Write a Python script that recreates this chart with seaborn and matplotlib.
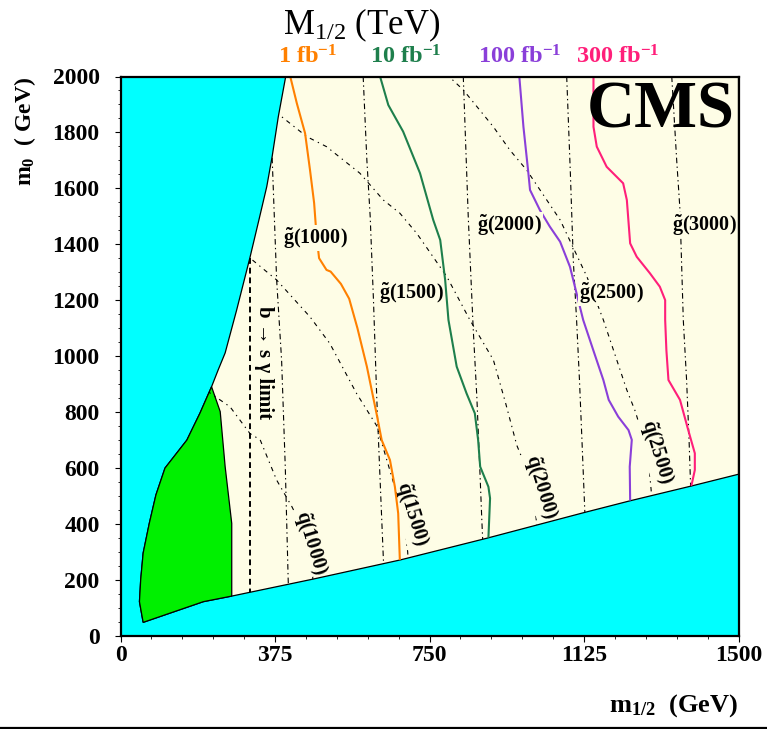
import matplotlib
matplotlib.use("Agg")
import matplotlib.pyplot as plt
from matplotlib.patches import Polygon
from matplotlib.lines import Line2D
import pandas as pd
import seaborn as sns

# ---------------- data: mSUGRA plane (m1/2, m0) in GeV ----------------
# boundary of the theoretically excluded region (upper left)
left_edge_m12 = [401, 383, 368, 355, 336, 314, 282, 254, 237, 221]
left_edge_m0 = [2000, 1856, 1713, 1606, 1487, 1351, 1165, 1011, 950, 890]
# LEP excluded region
lep_left_m12 = [221, 193, 161, 108, 86, 70, 55, 49, 46, 55]
lep_left_m0 = [890, 796, 699, 599, 503, 402, 295, 199, 121, 47]
lep_right_m12 = [270, 270, 254, 242, 221]
lep_right_m0 = [141, 401, 604, 801, 890]
# boundary of the excluded region (bottom)
lower_edge_m12 = [55, 201, 270, 468, 678, 889, 1123, 1237, 1386, 1500]
lower_edge_m0 = [47, 121, 141, 202, 270, 348, 439, 482, 535, 577]

# 5 sigma reach contours
lumi_labels = ["1", "10", "100", "300"]
reach_1_m12 = [412, 428, 448, 460, 470, 476, 482, 500, 510, 535, 555, 575, 598, 622, 634, 654, 666, 674, 678]
reach_1_m0 = [2000, 1904, 1797, 1665, 1547, 1427, 1350, 1308, 1302, 1258, 1205, 1100, 962, 790, 699, 628, 532, 437, 270]
reach_10_m12 = [630, 650, 686, 727, 759, 776, 788, 796, 816, 840, 860, 868, 873, 893, 897, 893]
reach_10_m0 = [2000, 1898, 1803, 1654, 1487, 1415, 1272, 1129, 962, 866, 795, 700, 604, 532, 491, 350]
reach_100_m12 = [968, 978, 990, 994, 1018, 1042, 1067, 1091, 1107, 1123, 1150, 1172, 1185, 1208, 1233, 1241, 1236, 1237]
reach_100_m0 = [2000, 1820, 1654, 1594, 1522, 1463, 1409, 1319, 1224, 1129, 1010, 914, 843, 783, 735, 700, 604, 485]
reach_300_m12 = [1148, 1148, 1156, 1180, 1220, 1229, 1237, 1253, 1285, 1309, 1322, 1322, 1325, 1330, 1358, 1378, 1394, 1394, 1386]
reach_300_m0 = [2000, 1820, 1749, 1677, 1618, 1558, 1403, 1355, 1296, 1248, 1200, 1129, 1020, 914, 843, 735, 652, 592, 538]

# gluino iso-mass lines
gluino_masses = ["1000", "1500", "2000", "2500", "3000"]
gl_1000_m12 = [358, 368, 379, 391, 400, 407, 410]
gl_1000_m0 = [2000, 1713, 1272, 986, 600, 199, 80]
gl_1500_m12 = [589, 598, 606, 614, 622, 630, 638, 641]
gl_1500_m0 = [2000, 1700, 1500, 1200, 850, 560, 275, 180]
gl_2000_m12 = [832, 844, 856, 865, 872, 877, 881]
gl_2000_m0 = [2000, 1500, 1100, 850, 600, 413, 280]
gl_2500_m12 = [1083, 1092, 1099, 1107, 1114, 1120, 1127, 1131]
gl_2500_m0 = [2000, 1650, 1343, 1129, 914, 700, 443, 330]
gl_3000_m12 = [1338, 1350, 1358, 1366, 1374, 1380, 1385]
gl_3000_m0 = [2000, 1700, 1522, 1129, 914, 700, 480]
gluino_label_m12 = [473, 705, 945, 1191, 1416]
gluino_label_m0 = [1422, 1225, 1469, 1225, 1469]

# squark iso-mass lines
squark_masses = ["1000", "1500", "2000", "2500"]
sq_1000_m12 = [210, 225, 266, 314, 339, 379, 416, 440, 455, 465, 470]
sq_1000_m0 = [875, 860, 818, 723, 700, 556, 461, 390, 330, 250, 120]
sq_1500_m12 = [295, 314, 379, 460, 508, 573, 622, 650, 672, 690, 697, 701]
sq_1500_m0 = [1380, 1351, 1272, 1140, 1045, 866, 750, 610, 500, 380, 300, 200]
sq_2000_m12 = [375, 452, 500, 581, 638, 678, 719, 792, 848, 905, 935, 962, 990, 1005, 1010, 1013]
sq_2000_m0 = [1875, 1785, 1749, 1654, 1558, 1511, 1439, 1284, 1129, 986, 830, 680, 580, 480, 400, 300]
sq_2500_m12 = [790, 832, 905, 945, 986, 1067, 1132, 1172, 1229, 1250, 1270, 1283, 1288, 1290]
sq_2500_m0 = [2010, 1952, 1820, 1737, 1665, 1487, 1284, 1129, 878, 800, 700, 600, 520, 440]
squark_label_m12 = [461, 705, 1019, 1300]
squark_label_m0 = [333, 435, 532, 658]

# b -> s gamma limit
bsg_m12 = [315.5, 315.5]
bsg_m0 = [1350, 100]
bsg_label_m12 = 349
bsg_label_m0 = 976

x_ticks = [0, 375, 750, 1125, 1500]
y_ticks = list(range(0, 2001, 200))

# ---------------- style ----------------
sns.set_style("ticks")
plt.rcParams["font.family"] = ["Liberation Serif", "DejaVu Serif"]
plt.rcParams["mathtext.fontset"] = "custom"
plt.rcParams["mathtext.rm"] = "Liberation Serif"
plt.rcParams["mathtext.it"] = "Liberation Serif:italic"
plt.rcParams["mathtext.bf"] = "Liberation Serif:bold"
plt.rcParams["mathtext.fallback"] = "stix"
for key in ["text.color", "axes.labelcolor", "xtick.color", "ytick.color", "axes.edgecolor"]:
    plt.rcParams[key] = "black"

CYAN = "#00FFFF"
ALLOWED = "#FEFDE6"
LEP = "#00F000"
colors = ["#FF8000", "#1E7F4C", "#8A3FD9", "#FF1F7A"]

W, H = 767, 729
fig = plt.figure(figsize=(W / 100, H / 100), dpi=100)
ax = fig.add_axes([120.5 / W, 1 - 635.5 / H, 618 / W, 559 / H])
ax.set_facecolor(CYAN)
ax.set_xlim(0, 1500)
ax.set_ylim(0, 2000)

allowed_pts = (list(zip(left_edge_m12, left_edge_m0)) + list(zip(lep_left_m12[1:], lep_left_m0[1:]))
               + list(zip(lower_edge_m12[1:], lower_edge_m0[1:])) + [(1500, 2000)])
allowed = Polygon(allowed_pts, closed=True, facecolor=ALLOWED, edgecolor="black", lw=0.9, zorder=1)
ax.add_patch(allowed)

lep_pts = (list(zip(lep_left_m12, lep_left_m0)) + list(zip(lower_edge_m12[1:3], lower_edge_m0[1:3]))
           + list(zip(lep_right_m12[1:], lep_right_m0[1:])))
ax.add_patch(Polygon(lep_pts, closed=True, facecolor=LEP, edgecolor="black", lw=0.9, zorder=2))


def draw(xs, ys, color, lw, dashes=None, z=3):
    df = pd.DataFrame({"m12": xs, "m0": ys})
    sns.lineplot(data=df, x="m12", y="m0", sort=False, estimator=None, color=color,
                 lw=lw, ax=ax, zorder=z, legend=False)
    line = ax.lines[-1]
    if dashes is not None:
        line.set_dashes(dashes)
    line.set_clip_path(allowed)
    return line


dd = (5, 3, 1.2, 3)
for xs, ys in [(gl_1000_m12, gl_1000_m0), (gl_1500_m12, gl_1500_m0), (gl_2000_m12, gl_2000_m0),
               (gl_2500_m12, gl_2500_m0), (gl_3000_m12, gl_3000_m0)]:
    draw(xs, ys, "black", 0.8, dd)
for xs, ys in [(sq_1000_m12, sq_1000_m0), (sq_1500_m12, sq_1500_m0), (sq_2000_m12, sq_2000_m0),
               (sq_2500_m12, sq_2500_m0)]:
    draw(xs, ys, "black", 0.8, (4, 4, 1.2, 4))
draw(bsg_m12, bsg_m0, "black", 1.4, (3, 2))

for (xs, ys), c in zip([(reach_1_m12, reach_1_m0), (reach_10_m12, reach_10_m0),
                        (reach_100_m12, reach_100_m0), (reach_300_m12, reach_300_m0)], colors):
    draw(xs, ys, c, 1.5, None, z=4)

label_font = dict(fontsize=14.5, fontweight="bold", color="black")
for m, x, y in zip(gluino_masses, gluino_label_m12, gluino_label_m0):
    ax.text(x, y, r"$\mathbf{\tilde{g}}$(" + m + ")", ha="center", va="center", zorder=5,
            bbox=dict(facecolor=ALLOWED, edgecolor="none", pad=0.5), **label_font)
for m, x, y in zip(squark_masses, squark_label_m12, squark_label_m0):
    ax.text(x, y, r"$\mathbf{\tilde{q}}$(" + m + ")", ha="center", va="center", rotation=-73,
            rotation_mode="anchor", zorder=3.5,
            bbox=dict(facecolor=ALLOWED, edgecolor="none", pad=0.5), **label_font)
ax.text(bsg_label_m12, bsg_label_m0, "b → s γ limit", ha="center", va="center", rotation=-90,
        fontsize=15, fontweight="bold", zorder=3.5,
        bbox=dict(facecolor=ALLOWED, edgecolor="none", pad=0.5))

ax.text(1490, 1985, "CMS", ha="right", va="top", fontsize=48, fontweight="bold", color="black", zorder=6)

# axes and ticks
ax.set_xticks(x_ticks)
ax.set_xticks(range(0, 1501, 75), minor=True)
ax.set_yticks(y_ticks)
ax.set_yticks(range(0, 2001, 50), minor=True)
ax.tick_params(axis="both", which="major", direction="out", length=4, width=0.8, labelsize=17,
               color="black", labelcolor="black")
ax.tick_params(axis="both", which="minor", direction="out", length=2.2, width=0.6, color="black")
ax.tick_params(axis="y", which="major", pad=11)
ax.tick_params(axis="x", which="major", pad=3)
for lab in ax.get_xticklabels() + ax.get_yticklabels():
    lab.set_fontweight("bold")
for s in ax.spines.values():
    s.set_linewidth(1.6)
    s.set_edgecolor("black")
    s.set_zorder(10)
ax.set_xlabel("")
ax.set_ylabel("")

# figure-level labels
fig.text(25 / W, 1 - 77 / H, r"$\mathbf{m}_{\mathbf{0}}$  ( GeV)", rotation=90, ha="center", va="top",
         fontsize=17, fontweight="bold", color="black")
fig.text(738 / W, 1 - 712 / H, r"$\mathbf{m}_{\mathbf{1/2}}$  (GeV)", ha="right", va="baseline",
         fontsize=19, fontweight="bold", color="black")
fig.text(283 / W, 1 - 34 / H, r"M$_{1/2}$ (TeV)", ha="left", va="baseline", fontsize=25, color="black")
for txt, xpx, c in zip(lumi_labels, [278, 370, 478, 576], colors):
    fig.text(xpx / W, 1 - 63 / H, txt + r" fb$^{\mathbf{-1}}$", ha="left", va="baseline",
             fontsize=17.5, fontweight="bold", color=c)
fig.add_artist(Line2D([0, 1], [1 - 728 / H] * 2, transform=fig.transFigure, color="black", lw=1.6))

fig.savefig("out.png", dpi=100)
